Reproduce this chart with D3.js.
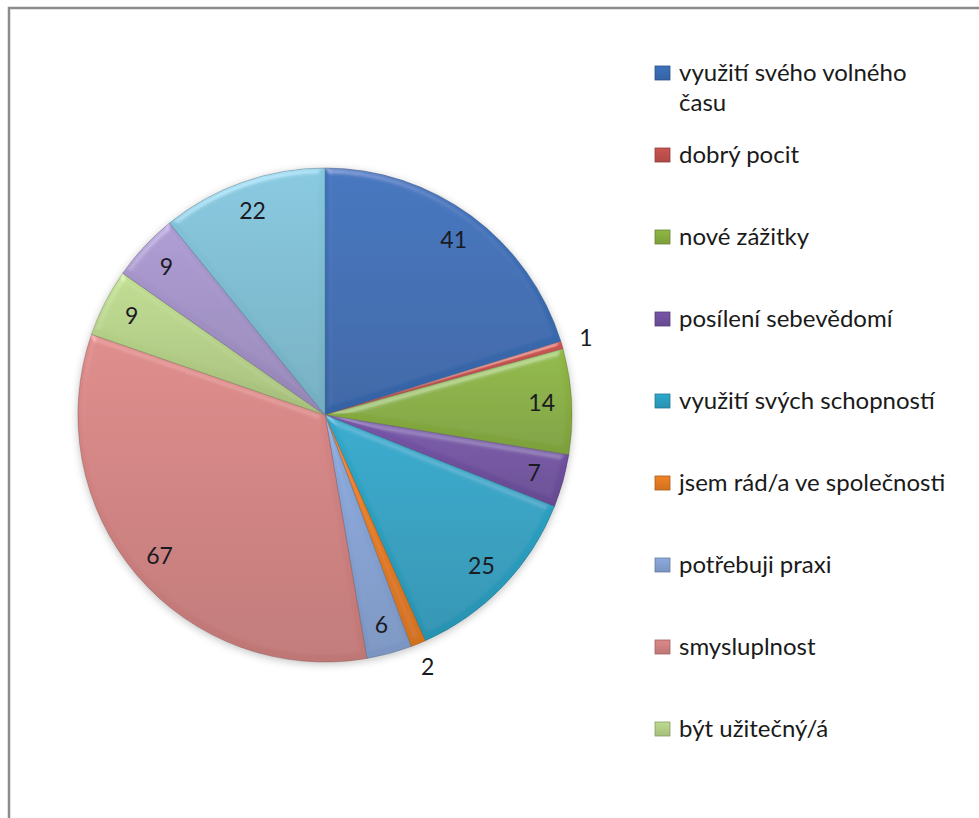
<!DOCTYPE html>
<html>
<head>
<meta charset="utf-8">
<script src="https://cdn.jsdelivr.net/npm/d3@7"></script>
<style>
  body { margin: 0; background: #fff; }
  svg { display: block; }
</style>
</head>
<body>
<div id="wrapper"></div>
<script>
// slice values, clockwise from 12 o'clock
const values = [41, 1, 14, 7, 25, 2, 6, 67, 9, 9, 22]
const sliceColors = ["#3a6cb3", "#c0504d", "#88ae40", "#7151a0", "#2ca0c1", "#e57c22",
    "#85a2d3", "#d18281", "#b4d087", "#a291c6", "#7ebdd2"]
// legend is cut off in the original after the ninth entry
const legendLabels = [
    ["využití svého volného", "času"],
    ["dobrý pocit"],
    ["nové zážitky"],
    ["posílení sebevědomí"],
    ["využití svých schopností"],
    ["jsem rád/a ve společnosti"],
    ["potřebuji praxi"],
    ["smysluplnost"],
    ["být užitečný/á"],
]

function drawPie() {
    const width = 979
    const height = 818
    const cx = 325, cy = 415, radius = 247

    const svg = d3.select("#wrapper")
        .append("svg")
        .attr("width", width)
        .attr("height", height)
        .style("font-family", "Lato, 'Open Sans', sans-serif")

    const defs = svg.append("defs")

    sliceColors.forEach((c, i) => {
        const g = defs.append("linearGradient")
            .attr("id", "grad" + i)
            .attr("x1", 0).attr("y1", 0).attr("x2", 0).attr("y2", 1)
        g.append("stop").attr("offset", "0%").attr("stop-color", d3.color(c).brighter(0.15))
        g.append("stop").attr("offset", "100%").attr("stop-color", d3.color(c).darker(0.25))
    })

    // soft bevel: highlight along edges facing the light
    const bevel = defs.append("filter").attr("id", "bevel")
        .attr("x", "-5%").attr("y", "-5%").attr("width", "110%").attr("height", "110%")
    bevel.append("feGaussianBlur").attr("in", "SourceAlpha").attr("stdDeviation", 3).attr("result", "blur")
    const spec = bevel.append("feSpecularLighting")
        .attr("in", "blur").attr("surfaceScale", 4).attr("specularConstant", 0.7)
        .attr("specularExponent", 16).attr("lighting-color", "#ffffff").attr("result", "spec")
    spec.append("feDistantLight").attr("azimuth", 250).attr("elevation", 28)
    bevel.append("feComposite").attr("in", "spec").attr("in2", "SourceAlpha")
        .attr("operator", "in").attr("result", "specOut")
    bevel.append("feComposite").attr("in", "SourceGraphic").attr("in2", "specOut")
        .attr("operator", "arithmetic").attr("k1", 0).attr("k2", 1).attr("k3", 0.32).attr("k4", 0)

    const shadow = defs.append("filter").attr("id", "shadow")
        .attr("x", "-10%").attr("y", "-10%").attr("width", "120%").attr("height", "120%")
    shadow.append("feGaussianBlur").attr("in", "SourceAlpha").attr("stdDeviation", 4)
    shadow.append("feOffset").attr("dx", 0).attr("dy", 2).attr("result", "off")
    shadow.append("feComponentTransfer").append("feFuncA").attr("type", "linear").attr("slope", 0.25)

    // frame of the chart area, running off the right and bottom of the picture
    svg.append("rect")
        .attr("x", 9).attr("y", 8)
        .attr("width", width + 20).attr("height", height + 20)
        .attr("fill", "none")
        .attr("stroke", "#8c8c8c")
        .attr("stroke-width", 2.5)

    const pie = d3.pie().sort(null).value(d => d)
    const arcs = pie(values)
    const arc = d3.arc().innerRadius(0).outerRadius(radius)

    const pieGroup = svg.append("g").attr("transform", `translate(${cx},${cy})`)

    pieGroup.append("circle")
        .attr("r", radius)
        .attr("fill", "#000")
        .attr("filter", "url(#shadow)")

    pieGroup.selectAll("path")
        .data(arcs)
        .join("path")
        .attr("d", arc)
        .attr("fill", (d, i) => `url(#grad${i})`)
        .attr("stroke", (d, i) => d3.color(sliceColors[i]).darker(1))
        .attr("stroke-opacity", 0.5)
        .attr("stroke-width", 1)
        .attr("filter", "url(#bevel)")

    const insideArc = d3.arc().innerRadius(217).outerRadius(217)
    const outsideArc = d3.arc().innerRadius(272).outerRadius(272)

    pieGroup.selectAll("text.val")
        .data(arcs)
        .join("text")
        .attr("class", "val")
        .attr("transform", d => {
            const small = (d.endAngle - d.startAngle) < 0.07
            const p = (small ? outsideArc : insideArc).centroid(d)
            return `translate(${p[0]},${p[1]})`
        })
        .attr("text-anchor", "middle")
        .attr("dy", "0.35em")
        .attr("font-size", "23px")
        .attr("fill", "#1a1a22")
        .text(d => d.data)

    const legend = svg.append("g").attr("transform", "translate(655,73)")
    const items = legend.selectAll("g")
        .data(legendLabels)
        .join("g")
        .attr("transform", (d, i) => `translate(0,${i * 82})`)

    items.append("rect")
        .attr("x", 0).attr("y", -7)
        .attr("width", 15).attr("height", 14)
        .attr("fill", (d, i) => `url(#grad${i})`)
        .attr("stroke", (d, i) => d3.color(sliceColors[i]).darker(0.8))
        .attr("stroke-width", 0.8)

    items.append("text")
        .attr("font-size", "24px")
        .attr("fill", "#1a1a1a")
        .selectAll("tspan")
        .data(d => d)
        .join("tspan")
        .attr("x", 24)
        .attr("y", (d, i) => i * 30)
        .attr("dy", "0.35em")
        .text(d => d)
}

drawPie()
</script>
</body>
</html>
